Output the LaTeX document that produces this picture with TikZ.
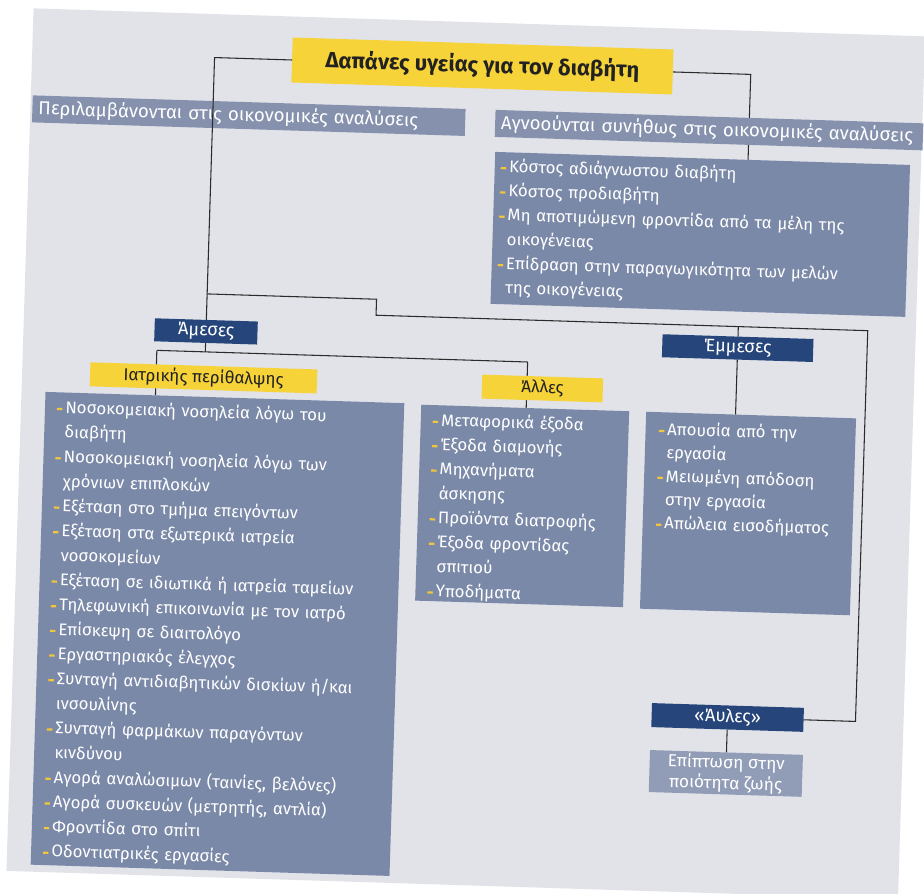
\documentclass[tikz,border=0pt]{standalone}
\usepackage{fontspec}
\setmainfont{Fira Sans}
\definecolor{panel}{HTML}{E1E3E9}
\definecolor{navy}{HTML}{26457A}
\definecolor{listc}{HTML}{7B89A8}
\definecolor{barc}{HTML}{8591AD}
\definecolor{lightbox}{HTML}{919CB6}
\definecolor{ylw}{HTML}{F7D33A}
\definecolor{bulc}{HTML}{F2C53A}
\definecolor{linec}{HTML}{2B2B2B}
\definecolor{txtdark}{HTML}{222222}
\pgfdeclarelayer{bg}
\pgfdeclarelayer{lines}
\pgfsetlayers{bg,lines,main}
\newcommand{\blt}{\makebox[0.5em][l]{\textcolor{bulc}{\rule[0.33ex]{0.32em}{0.13em}}}}
\newcommand{\cnt}{\hspace*{0.5em}}
\begin{document}
\begin{tikzpicture}[x=0.75pt,y=-0.75pt,
  conn/.style={draw=linec,line width=0.8pt},
  base/.style={inner sep=0pt,outer sep=0pt,transform shape},
  ybox/.style={base,fill=ylw,text=txtdark,align=center},
  nbox/.style={base,fill=navy,text=white,font=\fontsize{13.5}{15}\selectfont},
  barbox/.style={base,fill=barc,text=white,align=left,inner xsep=4.5pt,font=\fontsize{14}{15}\selectfont},
  lbox/.style={base,fill=listc,text=white,align=left,anchor=north west}]
\useasboundingbox (0,0) rectangle (924,893);
\begin{scope}[rotate around={-1.8:(462,446)}]
\begin{pgfonlayer}{bg}
\fill[panel] (20,22) rectangle (912,885);
\end{pgfonlayer}
% title and bars
\node[ybox,minimum width=285.75pt,minimum height=33.75pt,font=\bfseries\fontsize{16.5}{18}\selectfont] (title) at (470.5,65.5) {Δαπάνες υγείας για τον διαβήτη};
\node[barbox,minimum height=20.25pt,text width=315.75pt] (lbar) at (238.5,122.5) {Περιλαμβάνονται στις οικονομικές αναλύσεις};
\node[barbox,minimum height=20.25pt,text width=312pt] (rbar) at (699,122.5) {Αγνοούνται συνήθως στις οικονομικές αναλύσεις};
% right list
\node[lbox,inner xsep=4.5pt,text width=302.25pt,text height=15pt,text depth=99pt,font=\fontsize{12.6}{18.2}\selectfont] (rlist) at (486,151) {\blt Κόστος αδιάγνωστου διαβήτη\\
\blt Κόστος προδιαβήτη\\
\blt Μη αποτιμώμενη φροντίδα από τα μέλη της\\
\cnt οικογένειας\\
\blt Επίδραση στην παραγωγικότητα των μελών\\
\cnt της οικογένειας};
% navy labels
\node[nbox,minimum width=77.25pt,minimum height=17.25pt] (ameses) at (202.5,339.5) {Άμεσες};
\node[nbox,minimum width=113.25pt,minimum height=17.25pt] (emmeses) at (734.5,339.5) {Έμμεσες};
% yellow labels
\node[ybox,minimum width=170.25pt,minimum height=18pt,font=\fontsize{12.8}{16}\selectfont] (iatr) at (201.5,386) {Ιατρικής περίθαλψης};
\node[ybox,minimum width=90.75pt,minimum height=18pt,font=\fontsize{12.8}{16}\selectfont] (alles) at (540.5,386) {Άλλες};
% lists
\node[lbox,inner xsep=9pt,text width=251.25pt,text height=15.5pt,text depth=339.25pt,font=\fontsize{12.6}{18.5}\selectfont] (llist) at (44,405) {\blt Νοσοκομειακή νοσηλεία λόγω του\\
\cnt διαβήτη\\
\blt Νοσοκομειακή νοσηλεία λόγω των\\
\cnt χρόνιων επιπλοκών\\
\blt Εξέταση στο τμήμα επειγόντων\\
\blt Εξέταση στα εξωτερικά ιατρεία\\
\cnt νοσοκομείων\\
\blt Εξέταση σε ιδιωτικά ή ιατρεία ταμείων\\
\blt Τηλεφωνική επικοινωνία με τον ιατρό\\
\blt Επίσκεψη σε διαιτολόγο\\
\blt Εργαστηριακός έλεγχος\\
\blt Συνταγή αντιδιαβητικών δισκίων ή/και\\
\cnt ινσουλίνης\\
\blt Συνταγή φαρμάκων παραγόντων\\
\cnt κινδύνου\\
\blt Αγορά αναλώσιμων (ταινίες, βελόνες)\\
\blt Αγορά συσκευών (μετρητής, αντλία)\\
\blt Φροντίδα στο σπίτι\\
\blt Οδοντιατρικές εργασίες};
\node[lbox,inner xsep=9pt,text width=138pt,text height=15.5pt,text depth=131.5pt,font=\fontsize{12.6}{18.3}\selectfont] (alist) at (420,406) {\blt Μεταφορικά έξοδα\\
\blt Έξοδα διαμονής\\
\blt Μηχανήματα\\
\cnt άσκησης\\
\blt Προϊόντα διατροφής\\
\blt Έξοδα φροντίδας\\
\cnt σπιτιού\\
\blt Υποδήματα};
\node[lbox,inner xsep=10pt,text width=137.5pt,text height=17pt,text depth=130.75pt,font=\fontsize{12.6}{17.6}\selectfont] (elist) at (645,406) {\blt Απουσία από την\\
\cnt εργασία\\
\blt Μειωμένη απόδοση\\
\cnt στην εργασία\\
\blt Απώλεια εισοδήματος};
% intangible
\node[nbox,minimum width=114pt,minimum height=18pt] (aules) at (736,709) {«Άυλες»};
\node[base,fill=lightbox,text=white,align=center,minimum width=114.75pt,minimum height=31.5pt,font=\fontsize{13}{15.5}\selectfont] (epi) at (736,765) {Επίπτωση στην\\ποιότητα ζωής};
% junction coordinates
\coordinate (tl) at (202.5,65.5);
\coordinate (j1) at (202.5,302);
\coordinate (s1) at (372,302);
\coordinate (s2) at (372,318);
\coordinate (rc) at (864,318);
\coordinate (rd) at (864,709);
\coordinate (e1) at (734.5,318);
\coordinate (e2) at (734.5,406);
\coordinate (tr) at (739,65.5);
\coordinate (rb1) at (739,109);
\coordinate (rb2) at (739,136);
\coordinate (rb3) at (739,151);
\coordinate (a1) at (202.5,360);
\coordinate (a2) at (154,360);
\coordinate (a3) at (525,360);
\coordinate (a4) at (154,405);
\coordinate (a5) at (525,406);
% connector crossing the left bar (drawn on top)
\draw[conn] (title.west) -- (tl) -- (j1);
\begin{pgfonlayer}{lines}
\draw[conn] (j1) -- (ameses.north);
\draw[conn] (j1) -- (s1) -- (s2) -- (rc) -- (rd) -- (aules.east);
\draw[conn] (e1) -- (emmeses.north);
\draw[conn] (emmeses.south) -- (e2);
\draw[conn] (title.east) -- (tr) -- (rb1);
\draw[conn] (rb2) -- (rb3);
\draw[conn] (ameses.south) -- (a1);
\draw[conn] (a2) -- (a3);
\draw[conn] (a2) -- (a4);
\draw[conn] (a3) -- (a5);
\draw[conn] (aules.south) -- (epi.north);
\end{pgfonlayer}
\end{scope}
\end{tikzpicture}
\end{document}
